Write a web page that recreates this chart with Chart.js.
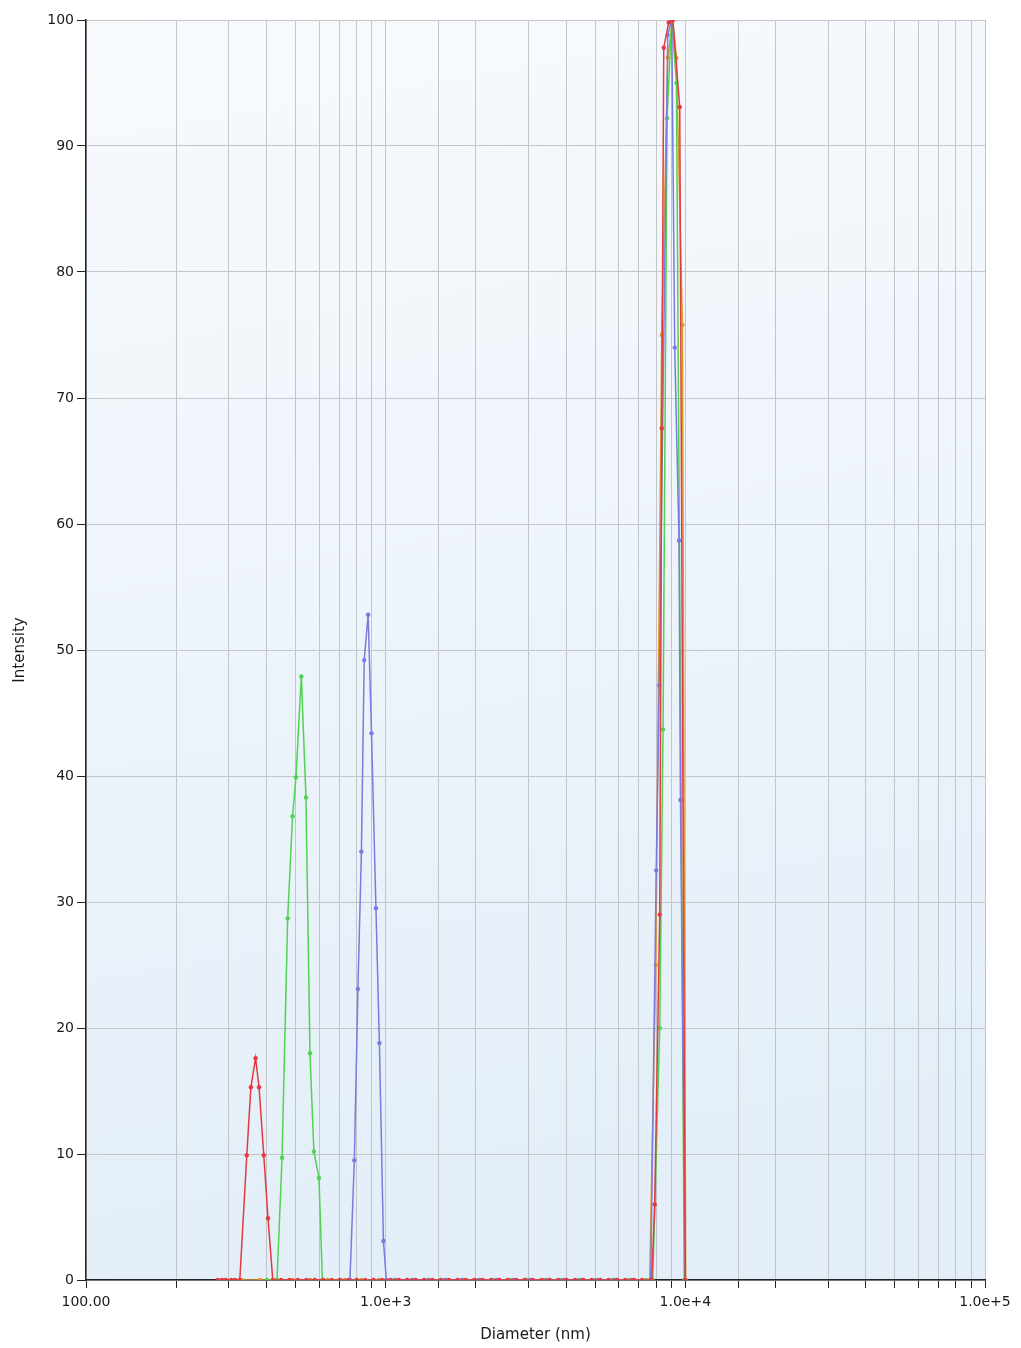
<!DOCTYPE html>
<html>
<head>
<meta charset="utf-8">
<title>Intensity vs Diameter</title>
<script src="https://cdn.jsdelivr.net/npm/chart.js@4.4.1/dist/chart.umd.min.js"></script>
<style>
  html, body { margin: 0; padding: 0; background: #fff; }
  #wrap { width: 1021px; height: 1348px; position: relative; }
</style>
</head>
<body>
<div id="wrap"><canvas id="myChart"></canvas></div>
<script>
// Asse X - etichette decadi
var xTickValues = [100, 1000, 10000, 100000];
var xTickLabels = ['100.00', '1.0e+3', '1.0e+4', '1.0e+5'];

// Serie rossa
var redDiam = [275, 284, 293, 305, 314, 326, 344, 355, 368, 378, 392, 405, 420,
  448, 478, 510, 544, 580, 619, 660, 704, 751, 801, 854, 911, 972, 1037, 1106, 1179,
  1258, 1342, 1431, 1526, 1628, 1736, 1852, 1975, 2107, 2247, 2397, 2556, 2727, 2908,
  3102, 3308, 3529, 3764, 4014, 4282, 4567, 4871, 5195, 5541, 5910, 6304, 6724, 7172,
  7723, 7904, 8215, 8343, 8471, 8802, 9078, 9579, 9993];
var redInt = [0, 0, 0, 0, 0, 0, 9.9, 15.3, 17.6, 15.3, 9.9, 4.9, 0,
  0, 0, 0, 0, 0, 0, 0, 0, 0, 0, 0, 0, 0, 0, 0, 0,
  0, 0, 0, 0, 0, 0, 0, 0, 0, 0, 0, 0, 0, 0,
  0, 0, 0, 0, 0, 0, 0, 0, 0, 0, 0, 0, 0, 0,
  0, 6.0, 29.0, 67.6, 97.8, 99.8, 100, 93.1, 0];

// Serie verde
var greenDiam = [402, 434, 451, 471, 489, 502, 523, 542, 559, 576, 599, 615,
  700, 800, 910, 1040, 1180, 1350, 1540, 1750, 2000, 2280, 2600, 2960, 3380, 3850,
  4390, 5000, 5700, 6500, 7400, 7784, 8215, 8426, 8689, 9007, 9339, 9915];
var greenInt = [0, 0, 9.7, 28.7, 36.8, 39.9, 47.9, 38.3, 18.0, 10.2, 8.1, 0,
  0, 0, 0, 0, 0, 0, 0, 0, 0, 0, 0, 0, 0, 0,
  0, 0, 0, 0, 0, 0, 20.0, 43.7, 92.2, 100, 95.0, 0];

// Serie blu
var blueDiam = [760, 786, 808, 830, 848, 874, 897, 928, 953, 983, 1005,
  1070, 1220, 1390, 1580, 1800, 2050, 2340, 2660, 3030, 3450, 3930, 4480, 5100, 5810,
  6610, 7664, 7996, 8183, 8736, 9007, 9217, 9528, 9632, 9993];
var blueInt = [0, 9.5, 23.1, 34.0, 49.2, 52.8, 43.4, 29.5, 18.8, 3.1, 0,
  0, 0, 0, 0, 0, 0, 0, 0, 0, 0, 0, 0, 0, 0,
  0, 0, 32.5, 47.2, 98.8, 100, 74.0, 58.7, 38.1, 0];

// Serie arancione
var orangeDiam = [290, 330, 380, 430, 490, 560, 640, 730, 830, 950, 1080, 1230,
  1400, 1600, 1820, 2080, 2370, 2700, 3080, 3510, 4000, 4560, 5200, 5930, 6760,
  7606, 7966, 8343, 8736, 9078, 9339, 9779, 10030];
var orangeInt = [0, 0, 0, 0, 0, 0, 0, 0, 0, 0, 0, 0,
  0, 0, 0, 0, 0, 0, 0, 0, 0, 0, 0, 0, 0,
  0, 25.0, 75.0, 97.0, 100, 97.0, 75.8, 0];

function toPoints(diam, vals) {
  return diam.map(function (d, i) { return { x: d, y: vals[i] }; });
}

function serie(data, color) {
  return {
    data: data,
    borderColor: color,
    backgroundColor: color,
    borderWidth: 1.5,
    pointRadius: 2.2,
    pointHoverRadius: 2.2,
    pointBorderWidth: 0,
    tension: 0,
    fill: false
  };
}

// sfondo area grafico
var bgPlugin = {
  id: 'bg',
  beforeDraw: function (chart) {
    var c = chart.ctx, a = chart.chartArea;
    c.save();
    c.fillStyle = '#ffffff';
    c.fillRect(0, 0, chart.width, chart.height);
    var g = c.createLinearGradient(a.left, a.top, a.right * 0.3, a.bottom);
    g.addColorStop(0, '#f7fafd');
    g.addColorStop(1, '#e3eef8');
    c.fillStyle = g;
    c.fillRect(a.left, a.top, a.right - a.left, a.bottom - a.top);
    c.restore();
  }
};

var tickFont = { family: 'DejaVu Sans', size: 14 };
var ctx = document.getElementById('myChart').getContext('2d');
var myChart = new Chart(ctx, {
  type: 'line',
  data: {
    datasets: [
      serie(toPoints(redDiam, redInt), '#e5383f'),
      serie(toPoints(blueDiam, blueInt), '#7a7ae2'),
      serie(toPoints(greenDiam, greenInt), '#4fd44f'),
      serie(toPoints(orangeDiam, orangeInt), '#e0962e')
    ]
  },
  options: {
    responsive: true,
    maintainAspectRatio: false,
    animation: false,
    layout: { padding: { top: 20, right: 36, bottom: 0, left: 0 } },
    plugins: {
      legend: { display: false },
      tooltip: { enabled: false }
    },
    scales: {
      x: {
        type: 'logarithmic',
        min: 100,
        max: 100000,
        border: { color: '#222', width: 1.5 },
        grid: { color: '#c2c6ca', lineWidth: 1, tickColor: '#222', tickLength: 8 },
        ticks: {
          autoSkip: false,
          maxRotation: 0,
          padding: 6,
          color: '#1a1a1a',
          font: tickFont,
          callback: function (value) {
            for (var i = 0; i < xTickValues.length; i++) {
              if (Math.abs(value - xTickValues[i]) < 1e-6 * xTickValues[i]) return xTickLabels[i];
            }
            return '';
          }
        },
        title: {
          display: true,
          text: 'Diameter (nm)',
          color: '#1a1a1a',
          font: { family: 'DejaVu Sans', size: 15 },
          padding: { top: 0, bottom: 4 }
        },
        afterFit: function (scale) { scale.height = 68; }
      },
      y: {
        min: 0,
        max: 100,
        border: { color: '#222', width: 1.5 },
        grid: { color: '#c2c6ca', lineWidth: 1, tickColor: '#222', tickLength: 9 },
        ticks: { stepSize: 10, padding: 3, color: '#1a1a1a', font: tickFont },
        title: {
          display: true,
          text: 'Intensity',
          color: '#1a1a1a',
          font: { family: 'DejaVu Sans', size: 15 },
          padding: { top: 11, bottom: 0 }
        },
        afterFit: function (scale) { scale.width = 86; }
      }
    }
  },
  plugins: [bgPlugin]
});
</script>
</body>
</html>
